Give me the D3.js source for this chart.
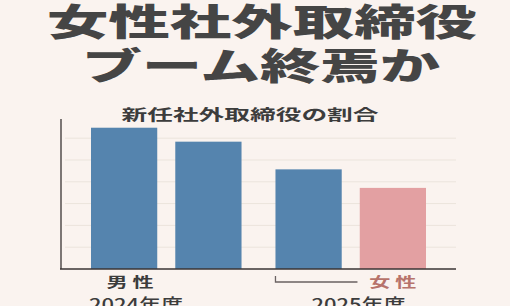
<!DOCTYPE html>
<html>
<head>
<meta charset="utf-8">
<script src="https://cdn.jsdelivr.net/npm/d3@7"></script>
<style>
  html, body { margin: 0; padding: 0; background: #faf3ef; }
  svg { display: block; }
</style>
</head>
<body>
<div id="chart"></div>
<script>
// data
const years = ["2024年度", "2025年度"];
const bars = ["a", "b"];           // two bars per year
const values = [6.48, 5.84, 4.57, 3.72];
const sexLabels = ["男 性", "", "", "女 性"];
const titleLines = ["女性社外取締役", "ブーム終焉か"];
const subtitle = "新任社外取締役の割合";
const gridTicks = [1, 2, 3, 4, 5, 6];

const W = 510, H = 306;
const font = "'Noto Sans CJK JP', 'Noto Sans', sans-serif";

const svg = d3.select("#chart").append("svg")
  .attr("width", W)
  .attr("height", H);

svg.append("rect").attr("width", W).attr("height", H).attr("fill", "#faf3ef");

// big headline
const headY = [36, 80];
const headW = [430, 358];
titleLines.forEach((t, i) => {
  svg.append("text")
    .attr("x", W / 2 + (i == 0 ? 7 : 6))
    .attr("y", headY[i])
    .attr("text-anchor", "middle")
    .attr("font-family", font)
    .attr("font-weight", 900)
    .attr("font-size", 37)
    .attr("fill", "#454545")
    .attr("textLength", headW[i])
    .attr("lengthAdjust", "spacingAndGlyphs")
    .text(t);
});

// subtitle
svg.append("text")
  .attr("x", 250)
  .attr("y", 120)
  .attr("text-anchor", "middle")
  .attr("font-family", font)
  .attr("font-weight", 700)
  .attr("font-size", 15)
  .attr("fill", "#3c3c3c")
  .attr("textLength", 257)
  .attr("lengthAdjust", "spacingAndGlyphs")
  .text(subtitle);

// scales
const y = d3.scaleLinear().domain([0, 6.88]).range([269, 119]);
const xYear = d3.scaleBand().domain(years).range([91, 426]).paddingInner(0.184);
const xBar = d3.scaleBand().domain(bars).range([0, xYear.bandwidth()]).paddingInner(0.214);

const data = values.map((v, i) => ({
  year: years[Math.floor(i / 2)],
  bar: bars[i % 2],
  value: v,
  label: sexLabels[i],
  female: i == 3
}));
const bx = d => xYear(d.year) + xBar(d.bar);

// gridlines
svg.append("g")
  .selectAll("line")
  .data(gridTicks)
  .join("line")
  .attr("x1", 65)
  .attr("x2", 456)
  .attr("y1", d => y(d))
  .attr("y2", d => y(d))
  .attr("stroke", "#ebe4dc")
  .attr("stroke-width", 1);

// bars
svg.append("g")
  .selectAll("rect")
  .data(data)
  .join("rect")
  .attr("x", bx)
  .attr("y", d => y(d.value))
  .attr("width", xBar.bandwidth())
  .attr("height", d => y(0) - y(d.value))
  .attr("fill", d => d.female ? "#e3a0a2" : "#5584ae");

// axes
svg.append("line")
  .attr("x1", 61).attr("x2", 61)
  .attr("y1", y.range()[1]).attr("y2", y(0))
  .attr("stroke", "#3a3434").attr("stroke-width", 1.3);
svg.append("line")
  .attr("x1", 60).attr("x2", 456)
  .attr("y1", y(0)).attr("y2", y(0))
  .attr("stroke", "#3a3434").attr("stroke-width", 1.3);

// sex labels under bars
svg.append("g")
  .selectAll("text")
  .data(data.filter(d => d.label))
  .join("text")
  .attr("x", d => bx(d) + xBar.bandwidth() / 2 + (d.female ? 0 : 6))
  .attr("y", 287)
  .attr("text-anchor", "middle")
  .attr("font-family", font)
  .attr("font-weight", 700)
  .attr("font-size", 14)
  .attr("fill", d => d.female ? "#b7736b" : "#3c3c3c")
  .attr("textLength", 47)
  .attr("lengthAdjust", "spacingAndGlyphs")
  .text(d => d.label);

// bracket from 2025 male bar towards female label
const bx3 = bx(data[2]);
svg.append("path")
  .attr("d", `M${bx3},276V282H${bx3 + 82}`)
  .attr("fill", "none")
  .attr("stroke", "#6a6262")
  .attr("stroke-width", 1.3);

// year labels (cut off by the bottom edge, as in the original)
const yearX = [xYear(years[0]) + 45, xYear(years[1]) + 83];
svg.append("g")
  .selectAll("text")
  .data(years)
  .join("text")
  .attr("x", (d, i) => yearX[i])
  .attr("y", 311)
  .attr("text-anchor", "middle")
  .attr("font-family", font)
  .attr("font-weight", 500)
  .attr("font-size", 17)
  .attr("fill", "#3c3c3c")
  .attr("textLength", 94)
  .attr("lengthAdjust", "spacingAndGlyphs")
  .text(d => d);
</script>
</body>
</html>
